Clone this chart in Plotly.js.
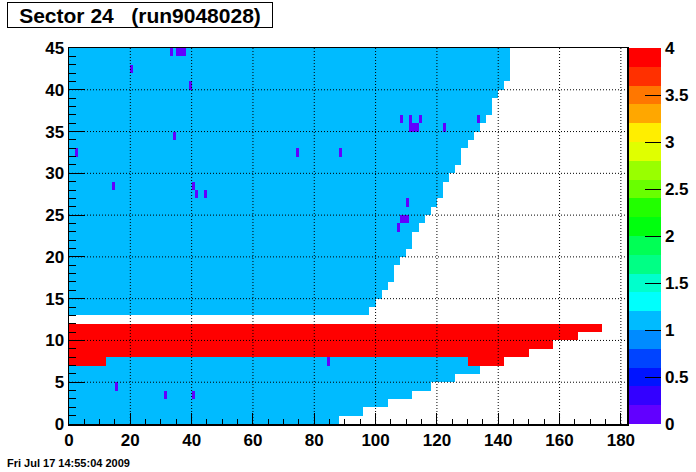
<!DOCTYPE html>
<html>
<head>
<meta charset="utf-8">
<script src="https://cdn.plot.ly/plotly-3.0.1.min.js"></script>
<style>
  html, body { margin: 0; padding: 0; background: #ffffff; }
  #chart { width: 696px; height: 472px; }
</style>
</head>
<body>
<div id="chart"></div>
<script>
// ---- data ----
const titleText = "Sector 24   (run9048028)";
const dateText = "Fri Jul 17 14:55:04 2009";

// number of pads in each padrow (row index 0..44 along y)
const padsPerRow = [88, 96, 104, 112, 118, 126, 134, 142, 150, 158, 166, 174, 182,
  98, 100, 102, 104, 106, 106, 108, 110, 112, 112, 114, 116, 118, 120, 122, 122,
  124, 126, 128, 128, 130, 132, 134, 136, 138, 138, 140, 142, 144, 144, 144, 144];

// content of the pads in each row (0 = empty)
const rowLevel = [1, 1, 1, 1, 1, 1, 1, 1, 4, 4, 4, 4, 0,
  1, 1, 1, 1, 1, 1, 1, 1, 1, 1, 1, 1, 1, 1, 1, 1,
  1, 1, 1, 1, 1, 1, 1, 1, 1, 1, 1, 1, 1, 1, 1, 1];

// partial hot segments: [row, firstPad, endPad(exclusive), value]
const hotSegRow   = [7, 7];
const hotSegStart = [0, 130];
const hotSegEnd   = [12, 142];
const hotSegValue = [4, 4];

// low-content pads: pad index and row index
const lowPadX = [33, 35, 36, 37, 20, 39, 34, 2, 74, 88, 108, 111, 114, 133, 111, 112, 113, 122,
                 14, 40, 41, 44, 110, 108, 109, 110, 107, 84, 15, 31, 40];
const lowPadY = [44, 44, 44, 44, 42, 40, 34, 32, 32, 32, 36, 36, 36, 36, 35, 35, 35, 35,
                 28, 28, 27, 27, 26, 24, 24, 24, 23, 7, 4, 3, 3];
const lowValue = 0.1;

// axis ticks
const xTicks = [0, 20, 40, 60, 80, 100, 120, 140, 160, 180];
const yTicks = [0, 5, 10, 15, 20, 25, 30, 35, 40, 45];
const zTicks = [0, 0.5, 1, 1.5, 2, 2.5, 3, 3.5, 4];
const xMax = 182, yMax = 45, zMin = 0, zMax = 4;

// ROOT "pretty" palette, 20 contour levels
const palette = ["#6200ff", "#3300ff", "#0014ff", "#0044ff", "#008bff", "#00bbff", "#00fffc",
  "#00ffcc", "#00ff85", "#00ff55", "#00ff0e", "#22ff00", "#69ff00", "#99ff00", "#e0ff00",
  "#ffee00", "#ffa700", "#ff7700", "#ff3000", "#ff0000"];

// ---- build matrix ----
const xCenters = [];
for (let i = 0; i < xMax; i++) xCenters.push(i + 0.5);
const yCenters = [];
for (let j = 0; j < yMax; j++) yCenters.push(j + 0.5);

const z = [];
for (let j = 0; j < yMax; j++) {
  const row = new Array(xMax).fill(null);
  if (rowLevel[j] > 0) {
    for (let i = 0; i < padsPerRow[j]; i++) row[i] = rowLevel[j];
  }
  z.push(row);
}
for (let k = 0; k < hotSegRow.length; k++) {
  for (let i = hotSegStart[k]; i < hotSegEnd[k]; i++) z[hotSegRow[k]][i] = hotSegValue[k];
}
for (let k = 0; k < lowPadX.length; k++) z[lowPadY[k]][lowPadX[k]] = lowValue;

// stepwise colorscale
const n = palette.length, eps = 1e-6;
const colorscale = [];
for (let k = 0; k < n; k++) {
  colorscale.push([k / n, palette[k]]);
  colorscale.push([k === n - 1 ? 1 : (k + 1) / n - eps, palette[k]]);
}

const boldFont = (size) => ({ family: "Liberation Sans, Arial, sans-serif", size: size, color: "#000000", weight: "bold" });

const trace = {
  type: "heatmap",
  x: xCenters,
  y: yCenters,
  z: z,
  zmin: zMin,
  zmax: zMax,
  zsmooth: false,
  colorscale: colorscale,
  hoverongaps: false,
  colorbar: {
    x: (629 - 69) / 558,
    xanchor: "left",
    xpad: 0,
    ypad: 0,
    y: 0.5,
    yanchor: "middle",
    len: 1,
    lenmode: "fraction",
    thickness: 32,
    thicknessmode: "pixels",
    outlinewidth: 0,
    ticks: "inside",
    ticklen: 16,
    tickwidth: 1,
    tickcolor: "#000000",
    tickvals: zTicks,
    ticktext: zTicks.map(String),
    tickfont: boldFont(17)
  }
};

// dotted grid drawn above the cells, from the tick arrays
const shapes = [];
xTicks.filter(v => v > 0 && v < xMax).forEach(v => shapes.push({
  type: "line", xref: "x", yref: "paper", x0: v, x1: v, y0: 0, y1: 1, layer: "above",
  line: { color: "#000000", width: 1, dash: "1px,2px" }
}));
yTicks.filter(v => v > 0 && v < yMax).forEach(v => shapes.push({
  type: "line", xref: "paper", yref: "y", x0: 0, x1: 1, y0: v, y1: v, layer: "above",
  line: { color: "#000000", width: 1, dash: "1px,2px" }
}));

const layout = {
  width: 696,
  height: 472,
  margin: { l: 69, r: 69, t: 48, b: 48, pad: 0, autoexpand: false },
  paper_bgcolor: "#ffffff",
  plot_bgcolor: "#ffffff",
  showlegend: false,
  xaxis: {
    range: [0, xMax],
    tickvals: xTicks,
    ticktext: xTicks.map(String),
    ticks: "inside",
    ticklen: 11,
    tickwidth: 1,
    tickcolor: "#000000",
    minor: { dtick: 5, tick0: 0, ticks: "inside", ticklen: 5, tickwidth: 1, tickcolor: "#000000", showgrid: false },
    showgrid: false,
    zeroline: false,
    showline: true,
    linecolor: "#000000",
    linewidth: 1.5,
    mirror: true,
    tickfont: boldFont(17),
    layer: "above traces"
  },
  yaxis: {
    range: [0, yMax],
    tickvals: yTicks,
    ticktext: yTicks.map(String),
    ticks: "inside",
    ticklen: 16,
    tickwidth: 1,
    tickcolor: "#000000",
    minor: { dtick: 1, tick0: 0, ticks: "inside", ticklen: 7, tickwidth: 1, tickcolor: "#000000", showgrid: false },
    showgrid: false,
    zeroline: false,
    showline: true,
    linecolor: "#000000",
    linewidth: 1.5,
    mirror: true,
    tickfont: boldFont(17),
    layer: "above traces"
  },
  shapes: shapes,
  annotations: [
    {
      text: titleText,
      xref: "paper", yref: "paper",
      x: (7 - 69) / 558, xanchor: "left",
      y: (424 - 2) / 376, yanchor: "top",
      showarrow: false,
      font: boldFont(21),
      bgcolor: "#ffffff",
      bordercolor: "#000000",
      borderwidth: 1,
      borderpad: 0,
      width: 264,
      height: 24,
      align: "center",
      valign: "middle"
    },
    {
      text: dateText,
      xref: "paper", yref: "paper",
      x: (5 - 69) / 558, xanchor: "left",
      y: (424 - 463) / 376, yanchor: "middle",
      showarrow: false,
      font: boldFont(11)
    }
  ]
};

Plotly.newPlot("chart", [trace], layout, { displayModeBar: false, staticPlot: true });
</script>
</body>
</html>
